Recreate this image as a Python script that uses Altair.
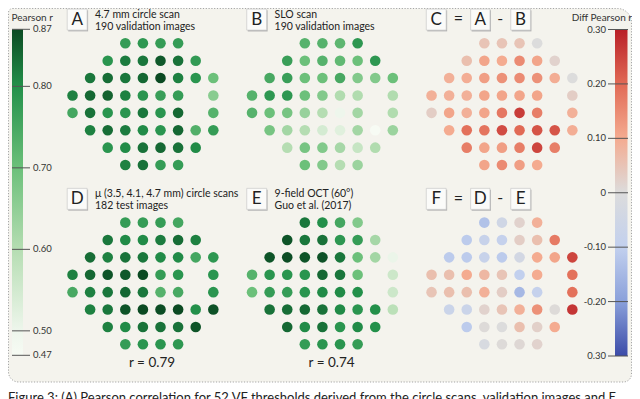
import altair as alt
import pandas as pd

# ---------------- data ----------------
ROW_COLS = [
    [3, 4, 5, 6],
    [2, 3, 4, 5, 6, 7],
    [1, 2, 3, 4, 5, 6, 7, 8],
    [0, 1, 2, 3, 4, 5, 6, 8],
    [0, 1, 2, 3, 4, 5, 6, 8],
    [1, 2, 3, 4, 5, 6, 7, 8],
    [2, 3, 4, 5, 6, 7],
    [3, 4, 5, 6],
]

A_VALUES = [
    [0.775, 0.785, 0.775, 0.775],
    [0.79, 0.82, 0.825, 0.855, 0.83, 0.78],
    [0.825, 0.835, 0.825, 0.84, 0.87, 0.815, 0.79, 0.70],
    [0.815, 0.84, 0.845, 0.815, 0.79, 0.77, 0.775, 0.66],
    [0.755, 0.83, 0.79, 0.79, 0.825, 0.79, 0.84, 0.73],
    [0.815, 0.835, 0.82, 0.805, 0.79, 0.84, 0.735, 0.775],
    [0.79, 0.805, 0.83, 0.84, 0.83, 0.805],
    [0.815, 0.83, 0.775, 0.775],
]
B_VALUES = [
    [0.73, 0.73, 0.72, 0.785],
    [0.77, 0.70, 0.73, 0.715, 0.70, 0.785],
    [0.75, 0.77, 0.70, 0.70, 0.75, 0.67, 0.67, 0.70],
    [0.73, 0.785, 0.785, 0.70, 0.67, 0.605, 0.605, 0.605],
    [0.73, 0.70, 0.685, 0.64, 0.60, 0.50, 0.625, 0.605],
    [0.685, 0.625, 0.60, 0.545, 0.525, 0.625, 0.47, 0.635],
    [0.60, 0.685, 0.67, 0.62, 0.57, 0.605],
    [0.70, 0.67, 0.60, 0.635],
]
C_VALUES = [
    [0.05, 0.05, 0.05, 0.0],
    [0.06, 0.11, 0.10, 0.15, 0.11, 0.02],
    [0.09, 0.095, 0.12, 0.14, 0.15, 0.14, 0.095, 0.0],
    [0.09, 0.09, 0.09, 0.11, 0.11, 0.11, 0.11, 0.03],
    [0.03, 0.11, 0.09, 0.11, 0.18, 0.26, 0.17, 0.09],
    [0.10, 0.19, 0.185, 0.24, 0.20, 0.23, 0.23, 0.095],
    [0.17, 0.11, 0.12, 0.17, 0.25, 0.17],
    [0.11, 0.15, 0.12, 0.10],
]
D_VALUES = [
    [0.775, 0.775, 0.775, 0.755],
    [0.825, 0.805, 0.805, 0.82, 0.835, 0.815],
    [0.835, 0.815, 0.83, 0.825, 0.805, 0.805, 0.755, 0.785],
    [0.815, 0.84, 0.86, 0.855, 0.87, 0.775, 0.79, 0.79],
    [0.75, 0.815, 0.825, 0.84, 0.825, 0.73, 0.75, 0.79],
    [0.815, 0.825, 0.86, 0.87, 0.867, 0.87, 0.80, 0.862],
    [0.815, 0.805, 0.83, 0.83, 0.83, 0.86],
    [0.775, 0.79, 0.79, 0.785],
]
E_VALUES = [
    [0.825, 0.80, 0.755, 0.67],
    [0.86, 0.825, 0.83, 0.785, 0.775, 0.62],
    [0.86, 0.867, 0.86, 0.862, 0.825, 0.70, 0.625, 0.505],
    [0.73, 0.79, 0.79, 0.79, 0.84, 0.825, 0.70, 0.56],
    [0.70, 0.775, 0.775, 0.79, 0.805, 0.805, 0.80, 0.56],
    [0.83, 0.835, 0.84, 0.83, 0.805, 0.79, 0.80, 0.59],
    [0.84, 0.805, 0.83, 0.79, 0.805, 0.80],
    [0.775, 0.79, 0.79, 0.775],
]
F_VALUES = [
    [-0.13, -0.05, 0.02, 0.09],
    [-0.11, -0.08, -0.09, 0.03, 0.06, 0.175],
    [-0.11, -0.11, -0.08, -0.11, -0.04, 0.10, 0.11, 0.25],
    [0.06, 0.06, 0.10, 0.075, 0.05, -0.10, 0.10, 0.19],
    [0.05, 0.06, 0.06, 0.09, 0.03, -0.15, -0.09, 0.19],
    [-0.07, -0.07, 0.02, 0.05, 0.09, 0.14, 0.005, 0.27],
    [-0.11, 0.005, 0.0, 0.06, 0.025, 0.10],
    [-0.02, 0.005, 0.01, 0.02],
]

PANELS = ["A", "B", "C", "D", "E", "F"]
PANEL_VALUES = [A_VALUES, B_VALUES, C_VALUES, D_VALUES, E_VALUES, F_VALUES]
PANEL_KIND = ["r", "r", "diff", "r", "r", "diff"]

SUBTITLES = {
    "A": ["4.7 mm circle scan", "190 validation images"],
    "B": ["SLO scan", "190 validation images"],
    "D": ["\u03bc (3.5, 4.1, 4.7 mm) circle scans", "182 test images"],
    "E": ["9-field OCT (60\u00b0)", "Guo et al. (2017)"],
}
EQUATIONS = {"C": ["C", "A", "B"], "F": ["F", "D", "E"]}
R_TEXT = {"D": "r = 0.79", "E": "r = 0.74"}
CAPTION = ("Figure 3:  (A) Pearson correlation for 52 VF thresholds derived from the circle scans, "
           "validation images and E")

R_TICKS = [0.87, 0.80, 0.70, 0.60, 0.50, 0.47]
R_TICK_LABELS = ["0.87", "0.80", "0.70", "0.60", "0.50", "0.47"]
D_TICKS = [0.30, 0.20, 0.10, 0.0, -0.10, -0.20, -0.30]
D_TICK_LABELS = ["0.30", "0.20", "0.10", "0", "-0.10", "-0.20", "0.30"]

G_STOPS = [0.47, 0.50, 0.60, 0.70, 0.80, 0.87]
G_COLORS = ["#f7fbf4", "#eef6ec", "#b5ddb2", "#6cc07a", "#23904a", "#0b4a22"]
DF_STOPS = [-0.30, -0.20, -0.10, 0.0, 0.10, 0.20, 0.30]
DF_COLORS = ["#3b4ba8", "#8aa0da", "#c2d0ee", "#dcdcdc", "#f4ab90", "#e16a55", "#b81f27"]

# ---------------- layout ----------------
W, H = 624, 391
UX, UY = 17.6, 17.39          # px per grid unit
X0, Y0 = -3.665, -2.03
PDX, PDY = 10.2, 10.31        # panel offsets in grid units
FONT = "Lato"
TXT = "#222222"

xs = alt.Scale(domain=[X0, X0 + W / UX], range=[0, W], nice=False, zero=False)
ys = alt.Scale(domain=[Y0, Y0 + H / UY], range=[0, H], nice=False, zero=False)

recs = []
for i, (p, vals) in enumerate(zip(PANELS, PANEL_VALUES)):
    pc, pr = i % 3, i // 3
    for r, cols in enumerate(ROW_COLS):
        for c, v in zip(cols, vals[r]):
            recs.append(dict(panel=p, kind=PANEL_KIND[i], col=c, row=r, pc=pc, pr=pr, value=v))
dots = pd.DataFrame(recs)

def X(field="gx"):
    return alt.X(f"{field}:Q", scale=xs, axis=None)

def Y(field="gy"):
    return alt.Y(f"{field}:Q", scale=ys, axis=None)

place = dict(gx=f"datum.col + {PDX} * datum.pc", gy=f"datum.row + {PDY} * datum.pr")

green = alt.Chart(dots[dots.kind == "r"]).transform_calculate(**place).mark_circle(
    size=112, opacity=1).encode(
    x=X(), y=Y(),
    color=alt.Color("value:Q", scale=alt.Scale(domain=G_STOPS, range=G_COLORS, interpolate="rgb"), legend=None))

diff = alt.Chart(dots[dots.kind == "diff"]).transform_calculate(**place).mark_circle(
    size=112, opacity=1).encode(
    x=X(), y=Y(),
    color=alt.Color("value:Q", scale=alt.Scale(domain=DF_STOPS, range=DF_COLORS, interpolate="rgb"), legend=None))

# background panel
bg = alt.Chart(pd.DataFrame({"a": [0]})).mark_rect(
    fill="#f4f3ed", stroke="#a5a5a5", strokeDash=[1.2, 1.6], strokeWidth=1,
    cornerRadiusTopLeft=4, cornerRadiusTopRight=14, cornerRadiusBottomLeft=10, cornerRadiusBottomRight=8,
).encode(x=alt.value(0.5), x2=alt.value(W - 0.5), y=alt.value(0.5), y2=alt.value(374))

# letter boxes
SLOT_X = [(-0.30, 0.83), (2.22, 3.32), (4.50, 5.62)]
boxes, ops, subs, rtx = [], [], [], []
for i, p in enumerate(PANELS):
    pc, pr = i % 3, i // 3
    ox, oy = PDX * pc, PDY * pr
    letters = EQUATIONS.get(p, [p])
    for k, L in enumerate(letters):
        a, b = SLOT_X[k]
        boxes.append(dict(L=L, x1=ox + a, x2=ox + b, y1=oy - 1.97, y2=oy - 0.76, xm=ox + (a + b) / 2, ym=oy - 1.35))
    if p in EQUATIONS:
        ops.append(dict(t="=", x=ox + 1.52, y=oy - 1.38))
        ops.append(dict(t="-", x=ox + 3.90, y=oy - 1.40))
    if p in SUBTITLES:
        for j, s in enumerate(SUBTITLES[p]):
            subs.append(dict(t=s, x=ox + 1.28, y=oy - 1.64 + 0.71 * j))
    if p in R_TEXT:
        rtx.append(dict(t=R_TEXT[p], x=ox + 4.52, y=oy + 8.07))
boxes = pd.DataFrame(boxes)

shadow = alt.Chart(boxes).mark_rect(fill="#b5b5b5", xOffset=1, yOffset=1.3, x2Offset=1, y2Offset=1.3).encode(
    x=X("x1"), x2="x2:Q", y=Y("y1"), y2="y2:Q")
box = alt.Chart(boxes).mark_rect(fill="#fbfbf9", stroke="#c8c8c8", strokeWidth=0.7).encode(
    x=X("x1"), x2="x2:Q", y=Y("y1"), y2="y2:Q")
blet = alt.Chart(boxes).mark_text(font=FONT, fontSize=17, color=TXT, baseline="middle", align="center").encode(
    x=X("xm"), y=Y("ym"), text="L:N")
opt = alt.Chart(pd.DataFrame(ops)).mark_text(font=FONT, fontSize=16, color=TXT, baseline="middle", align="center").encode(
    x=X("x"), y=Y("y"), text="t:N")
subt = alt.Chart(pd.DataFrame(subs)).mark_text(font=FONT, fontSize=10.5, color=TXT, baseline="middle", align="left").encode(
    x=X("x"), y=Y("y"), text="t:N")
rt = alt.Chart(pd.DataFrame(rtx)).mark_text(font=FONT, fontSize=13.5, color=TXT, baseline="middle", align="center").encode(
    x=X("x"), y=Y("y"), text="t:N")

# colour bars
gsc = alt.Scale(domain=[0.47, 0.87], range=[347.3, 21.3], nice=False, zero=False)
dsc = alt.Scale(domain=[-0.30, 0.30], range=[348, 21.5], nice=False, zero=False)

def grad(stops, colors):
    lo, hi = stops[0], stops[-1]
    return alt.Gradient(gradient="linear", x1=0, x2=0, y1=1, y2=0,
                        stops=[alt.GradientStop(offset=(s - lo) / (hi - lo), color=c) for s, c in zip(stops, colors)])

one = pd.DataFrame({"a": [0]})
gbar = alt.Chart(one).mark_rect(fill=grad(G_STOPS, G_COLORS)).encode(
    x=alt.value(4), x2=alt.value(15),
    y=alt.Y(datum=0.87, scale=gsc, axis=None), y2=alt.Y2(datum=0.47))
dbar = alt.Chart(one).mark_rect(fill=grad(DF_STOPS, DF_COLORS)).encode(
    x=alt.value(607), x2=alt.value(619.5),
    y=alt.Y(datum=0.30, scale=dsc, axis=None), y2=alt.Y2(datum=-0.30))

gt = pd.DataFrame({"v": R_TICKS, "lab": R_TICK_LABELS})
dt = pd.DataFrame({"v": D_TICKS, "lab": D_TICK_LABELS})
gtick = alt.Chart(gt).mark_rule(color="#555555", strokeWidth=1).encode(
    y=alt.Y("v:Q", scale=gsc, axis=None), x=alt.value(4), x2=alt.value(22))
glab = alt.Chart(gt).mark_text(font=FONT, fontSize=9.5, color="#333333", align="left", baseline="middle").encode(
    y=alt.Y("v:Q", scale=gsc, axis=None), x=alt.value(25), text="lab:N")
dtick = alt.Chart(dt).mark_rule(color="#555555", strokeWidth=1).encode(
    y=alt.Y("v:Q", scale=dsc, axis=None), x=alt.value(600), x2=alt.value(620))
dlab = alt.Chart(dt).mark_text(font=FONT, fontSize=9.5, color="#333333", align="right", baseline="middle").encode(
    y=alt.Y("v:Q", scale=dsc, axis=None), x=alt.value(598), text="lab:N")

titles = pd.DataFrame({"t": ["Pearson r"], "t2": ["Diff Pearson r"], "cap": [CAPTION]})
gtitle = alt.Chart(titles).mark_text(font=FONT, fontSize=10, color="#333333", align="left", baseline="middle").encode(
    x=alt.value(3.5), y=alt.value(10), text="t:N")
dtitle = alt.Chart(titles).mark_text(font=FONT, fontSize=10, color="#333333", align="right", baseline="middle").encode(
    x=alt.value(624), y=alt.value(10), text="t2:N")
cap = alt.Chart(titles).mark_text(font=FONT, fontSize=13, color="#222222", align="left", baseline="top").encode(
    x=alt.value(0), y=alt.value(384), text="cap:N")

chart = alt.layer(
    bg, green, diff, shadow, box, blet, opt, subt, rt,
    gbar, dbar, gtick, glab, dtick, dlab, gtitle, dtitle, cap,
).resolve_scale(y="independent", color="independent").properties(
    width=W, height=H, autosize="none", padding=0, background="white"
).configure_view(stroke=None)

chart.save("out.html", embed_options={"renderer": "svg", "actions": False})
